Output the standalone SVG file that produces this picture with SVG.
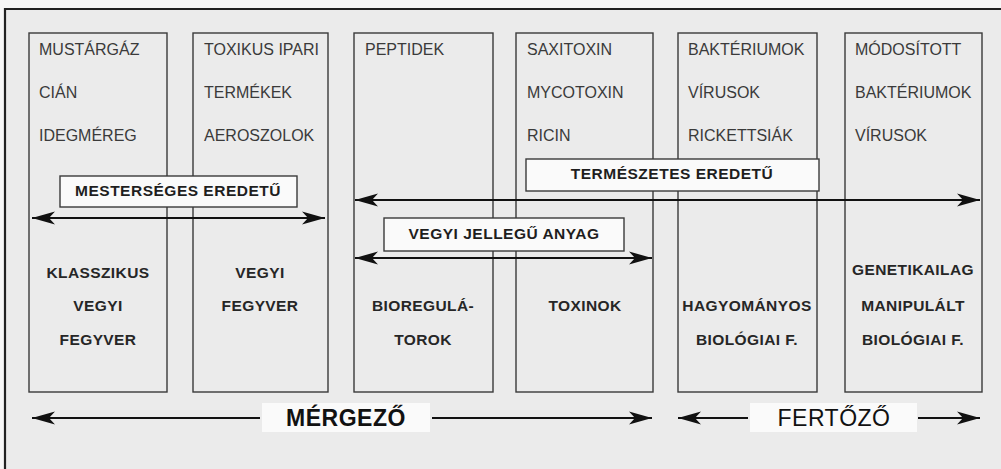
<svg xmlns="http://www.w3.org/2000/svg" width="1001" height="469" viewBox="0 0 1001 469">
<style>
.bg{fill:#ebebeb}
.col{fill:none;stroke:#3a3a3a;stroke-width:1.4}
.lbl{fill:#fafafa;stroke:#3a3a3a;stroke-width:1.4}
.t{font-family:"Liberation Sans",Arial,sans-serif;font-size:16px;fill:#3a3a3a}
.b{font-family:"Liberation Sans",Arial,sans-serif;font-size:15.5px;font-weight:bold;fill:#262626;letter-spacing:0.4px;text-anchor:middle}
.bl{font-family:"Liberation Sans",Arial,sans-serif;font-size:15.5px;font-weight:bold;fill:#1e1e1e;letter-spacing:0.5px;text-anchor:middle}
.big{font-family:"Liberation Sans",Arial,sans-serif;font-size:23px;fill:#111;text-anchor:middle;letter-spacing:0.5px}
.ln{stroke:#111;stroke-width:2.2;fill:none;marker-end:url(#ah);marker-start:url(#ah)}
.one{stroke:#111;stroke-width:2.2;fill:none;marker-end:url(#ah)}
</style>
<defs>
<marker id="ah" markerUnits="userSpaceOnUse" markerWidth="30" markerHeight="16" viewBox="-24 -8 26 16" refX="0" refY="0" orient="auto-start-reverse">
<path d="M0,0 L-23,-6.5 L-17,0 L-23,6.5 Z" fill="#111"/>
</marker>
</defs>
<rect x="0" y="0" width="1001" height="469" fill="#f7f7f7"/>
<rect class="bg" x="5" y="9" width="996" height="460"/>
<path d="M5,469 L5,9 L1001,9" fill="none" stroke="#222" stroke-width="2.2"/>

<g id="col1">
<rect class="col" x="29" y="33" width="138" height="359"/>
<text class="t" x="39" y="55">MUSTÁRGÁZ</text>
<text class="t" x="39" y="98">CIÁN</text>
<text class="t" x="39" y="141">IDEGMÉREG</text>
<text class="b" x="98" y="278">KLASSZIKUS</text>
<text class="b" x="98" y="311">VEGYI</text>
<text class="b" x="98" y="345">FEGYVER</text>
</g>
<g id="col2">
<rect class="col" x="193" y="33" width="135" height="359"/>
<text class="t" x="204" y="55">TOXIKUS IPARI</text>
<text class="t" x="204" y="98">TERMÉKEK</text>
<text class="t" x="204" y="141">AEROSZOLOK</text>
<text class="b" x="260" y="278">VEGYI</text>
<text class="b" x="260" y="311">FEGYVER</text>
</g>
<g id="col3">
<rect class="col" x="354" y="33" width="139" height="359"/>
<text class="t" x="365" y="55">PEPTIDEK</text>
<text class="b" x="423" y="311">BIOREGULÁ-</text>
<text class="b" x="423" y="345">TOROK</text>
</g>
<g id="col4">
<rect class="col" x="516" y="33" width="137" height="359"/>
<text class="t" x="527" y="55">SAXITOXIN</text>
<text class="t" x="527" y="98">MYCOTOXIN</text>
<text class="t" x="527" y="141">RICIN</text>
<text class="b" x="585" y="311">TOXINOK</text>
</g>
<g id="col5">
<rect class="col" x="678" y="33" width="139" height="359"/>
<text class="t" x="688" y="55">BAKTÉRIUMOK</text>
<text class="t" x="688" y="98">VÍRUSOK</text>
<text class="t" x="688" y="141">RICKETTSIÁK</text>
<text class="b" x="747" y="311">HAGYOMÁNYOS</text>
<text class="b" x="747" y="345">BIOLÓGIAI F.</text>
</g>
<g id="col6">
<rect class="col" x="845" y="33" width="137" height="359"/>
<text class="t" x="855" y="55">MÓDOSÍTOTT</text>
<text class="t" x="855" y="98">BAKTÉRIUMOK</text>
<text class="t" x="855" y="141">VÍRUSOK</text>
<text class="b" x="913" y="275">GENETIKAILAG</text>
<text class="b" x="913" y="311">MANIPULÁLT</text>
<text class="b" x="913" y="345">BIOLÓGIAI F.</text>
</g>

<g id="connectors">
<line class="ln" x1="32" y1="218" x2="325" y2="218"/>
<line class="ln" x1="355" y1="200" x2="980" y2="200"/>
<line class="ln" x1="355" y1="258" x2="652" y2="258"/>
<line class="one" x1="260" y1="418" x2="32" y2="418"/>
<line class="one" x1="432" y1="418" x2="652" y2="418"/>
<line class="one" x1="748" y1="418" x2="678" y2="418"/>
<line class="one" x1="918" y1="418" x2="980" y2="418"/>
</g>

<g id="label-mesterseges">
<rect class="lbl" x="60" y="176" width="237" height="31"/>
<text class="bl" x="178" y="196">MESTERSÉGES EREDETŰ</text>
</g>
<g id="label-termeszetes">
<rect class="lbl" x="526" y="159" width="293" height="32"/>
<text class="bl" x="672" y="179">TERMÉSZETES EREDETŰ</text>
</g>
<g id="label-vegyi">
<rect class="lbl" x="384" y="218" width="240" height="33"/>
<text class="bl" x="504" y="239">VEGYI JELLEGŰ ANYAG</text>
</g>
<g id="label-mergezo">
<rect x="262" y="403" width="168" height="29" fill="#fafafa"/>
<text class="big" x="346" y="426" font-weight="bold">MÉRGEZŐ</text>
</g>
<g id="label-fertozo">
<rect x="750" y="403" width="167" height="29" fill="#fafafa"/>
<text class="big" x="834" y="426">FERTŐZŐ</text>
</g>
</svg>
